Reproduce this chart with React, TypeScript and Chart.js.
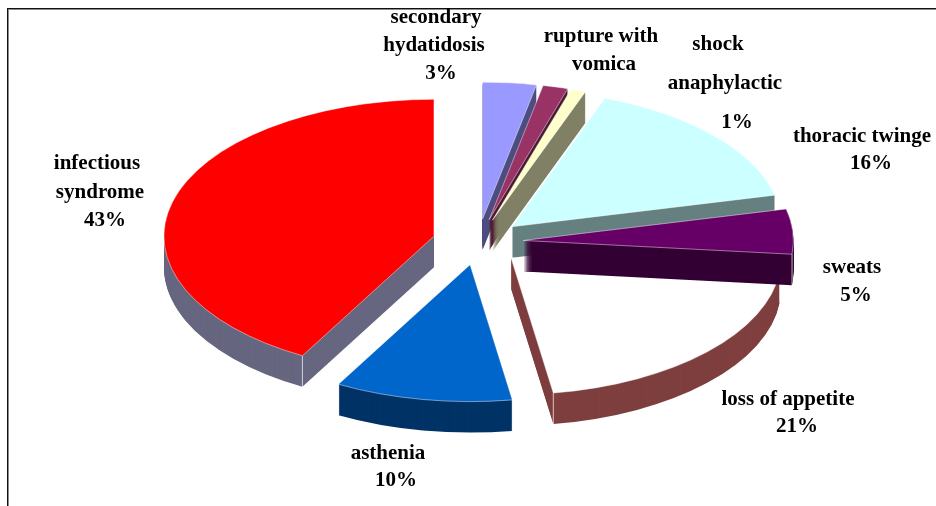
import React, { useEffect, useRef } from "react";
import { Chart, registerables } from "chart.js";

Chart.register(...registerables);

const categories = [
  "secondary hydatidosis",
  "rupture with vomica",
  "shock anaphylactic",
  "thoracic twinge",
  "sweats",
  "loss of appetite",
  "asthenia",
  "infectious syndrome",
];
// slice sizes
const sliceShares = [3.2, 1.5, 0.9, 15.7, 5.3, 20.9, 10.6, 41.9];
// percentages as printed on the labels
const printedPercents = [3, null, 1, 16, 5, 21, 10, 43];
const topColors = ["#9999ff", "#993366", "#ffffcc", "#ccffff", "#660066", "#ffffff", "#0066cc", "#ff0000"];
const sideColors = ["#4d4d80", "#4d1a33", "#808066", "#668080", "#330033", "#7f3f3f", "#003366", "#666680"];
const drawOrder = [7, 0, 1, 2, 3, 5, 4, 6];

// each label: its lines of text, with x/y centre per line; null text = the printed percentage
const labelLines: [number, string | null, number, number][] = [
  [0, "secondary", 436, 18],
  [0, "hydatidosis", 434, 46],
  [0, null, 441, 74],
  [1, "rupture with", 601, 37],
  [1, "vomica", 604, 65],
  [2, "shock", 718, 45],
  [2, "anaphylactic", 725, 84],
  [2, null, 737, 123],
  [3, "thoracic twinge", 862, 137],
  [3, null, 871, 164],
  [4, "sweats", 852, 268],
  [4, null, 856, 296],
  [5, "loss of appetite", 788, 400],
  [5, null, 797, 427],
  [6, "asthenia", 388, 454],
  [6, null, 396, 481],
  [7, "infectious", 97, 164],
  [7, "syndrome", 100, 193],
  [7, null, 105, 221],
];

const SQUASH = 0.507;
const EXPLODE = 45.5;
const DEPTH = 31;

const arcOpts = (fill: string, stroke: string, bw: number) => ({
  backgroundColor: fill,
  borderColor: stroke,
  borderWidth: bw,
  borderAlign: "center",
  borderJoinStyle: "round",
  borderRadius: 0,
  borderDash: [],
  borderDashOffset: 0,
  offset: 0,
  spacing: 0,
  circular: true,
  selfJoin: false,
});

const pie3d = {
  id: "pie3d",
  beforeDatasetDraw(chart: any, args: any) {
    const ctx = chart.ctx;
    const data = args.meta.data;
    for (const i of drawOrder) {
      const arc = data[i];
      const saved = arc.options;
      const mid = (arc.startAngle + arc.endAngle) / 2;
      const ex = Math.cos(mid) * EXPLODE;
      const ey = Math.sin(mid) * EXPLODE;
      const paint = (dy: number, o: any) => {
        ctx.save();
        ctx.translate(arc.x, arc.y + dy);
        ctx.scale(1, SQUASH);
        ctx.translate(ex - arc.x, ey - arc.y);
        arc.options = o;
        arc.draw(ctx);
        ctx.restore();
      };
      const side = arcOpts(sideColors[i], sideColors[i], 0);
      for (let d = DEPTH; d >= 1; d--) paint(d, side);
      // light vertical edges on front-facing corners
      ctx.save();
      ctx.strokeStyle = "rgba(255,255,255,0.7)";
      ctx.lineWidth = 1;
      for (const a of [arc.startAngle, arc.endAngle]) {
        if (Math.sin(a) > 0.1) {
          const px = arc.x + ex + Math.cos(a) * arc.outerRadius;
          const py = arc.y + (ey + Math.sin(a) * arc.outerRadius) * SQUASH;
          ctx.beginPath();
          ctx.moveTo(px, py);
          ctx.lineTo(px, py + DEPTH);
          ctx.stroke();
        }
      }
      ctx.restore();
      paint(0, arcOpts(topColors[i], "rgba(255,255,255,0.6)", 1));
      arc.options = saved;
    }
    return false;
  },
  afterDatasetsDraw(chart: any) {
    const ctx = chart.ctx;
    ctx.save();
    // frame
    ctx.fillStyle = "#111111";
    ctx.fillRect(7, 8, 929, 1);
    ctx.fillRect(7, 8, 1, 498);
    ctx.fillStyle = "#8a8a8a";
    ctx.fillRect(8, 9, 928, 1);
    ctx.fillRect(8, 9, 1, 497);
    // labels
    ctx.fillStyle = "#000000";
    ctx.font = "bold 21px 'Liberation Serif'";
    ctx.textAlign = "center";
    ctx.textBaseline = "middle";
    for (const [i, text, x, y] of labelLines) {
      ctx.fillText(text === null ? `${printedPercents[i]}%` : text, x, y);
    }
    ctx.restore();
  },
};

export default function App() {
  const ref = useRef<HTMLCanvasElement>(null);
  useEffect(() => {
    const chart = new Chart(ref.current as HTMLCanvasElement, {
      type: "pie",
      data: {
        labels: categories,
        datasets: [{ data: sliceShares, backgroundColor: topColors, borderWidth: 0, radius: 270 } as any],
      },
      options: {
        responsive: false,
        animation: false,
        layout: { padding: { left: 20, bottom: 22 } },
        plugins: { legend: { display: false }, tooltip: { enabled: false } },
      },
      plugins: [pie3d],
    } as any);
    return () => chart.destroy();
  }, []);
  return (
    <canvas
      ref={ref}
      width={936}
      height={506}
      style={{ position: "absolute", left: 0, top: 0, width: 936, height: 506 }}
    />
  );
}
